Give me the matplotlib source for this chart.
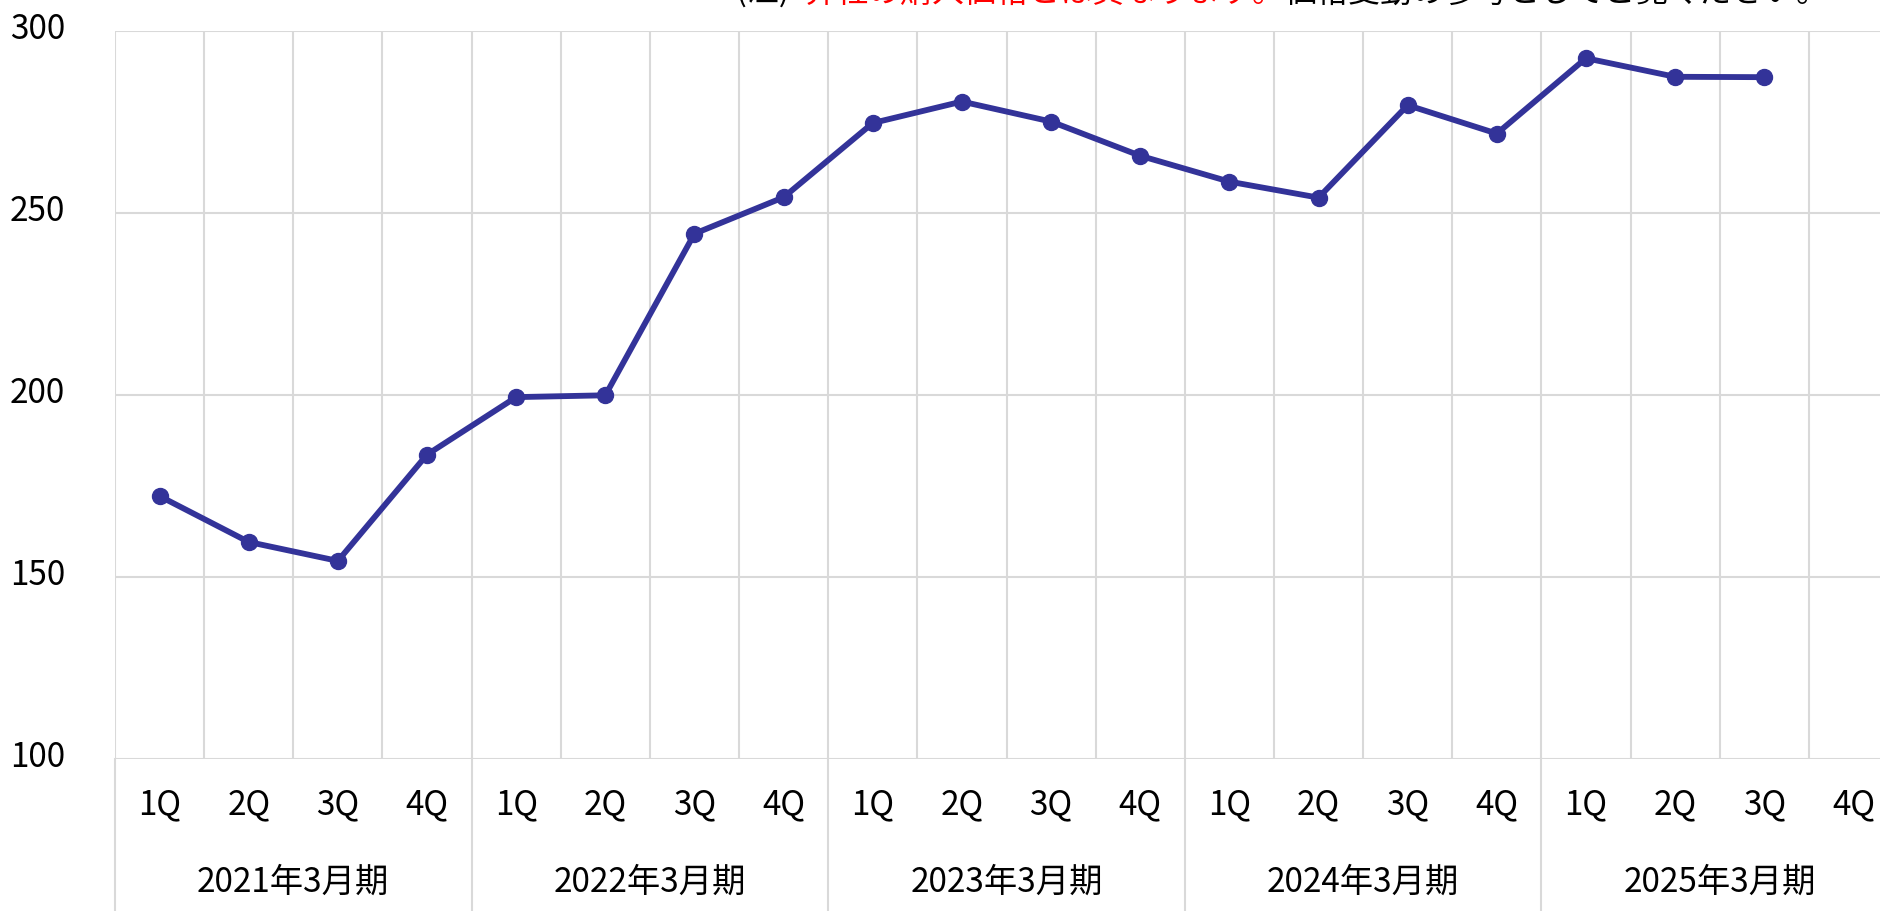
import matplotlib
matplotlib.use('Agg')
import matplotlib.pyplot as plt
from matplotlib.transforms import blended_transform_factory, offset_copy

plt.rcParams['font.family'] = ['Noto Sans CJK JP', 'DejaVu Sans']

# ---- data ----
years = ['2021年3月期', '2022年3月期', '2023年3月期', '2024年3月期', '2025年3月期']
quarters = ['1Q', '2Q', '3Q', '4Q']
values = [172.3, 159.7, 154.5, 183.7,
          199.5, 200.0, 244.4, 254.4,
          274.8, 280.7, 275.2, 265.8,
          258.7, 254.3, 279.7, 271.9,
          292.6, 287.5, 287.4]
yticks = [100, 150, 200, 250, 300]
note_black1 = '(注)'
note_red = '弊社の購入価格とは異なります。'
note_black2 = '価格変動の参考としてご覧ください。'

# ---- layout ----
W, H = 1880, 911
fig = plt.figure(figsize=(W / 100, H / 100), dpi=100)
left, right = 115 / W, 1898 / W
bottom, top = 1 - 759.3 / H, 1 - 31.3 / H
ax = fig.add_axes([left, bottom, right - left, top - bottom])
ax_h_px = 759.3 - 31.3

n = len(years) * len(quarters)
ax.set_xlim(0, n)
ax.set_ylim(yticks[0], yticks[-1])
for s in ax.spines.values():
    s.set_visible(False)
ax.set_xticks([])
ax.set_yticks([])

grid = '#D9D9D9'
glw = 1.5
for y in yticks:
    ax.axhline(y, color=grid, lw=glw, zorder=1)
for i in range(n + 1):
    ax.axvline(i, color=grid, lw=glw, zorder=1)

trans_xa = blended_transform_factory(ax.transData, ax.transAxes)
for k in range(len(years) + 1):
    x = k * len(quarters)
    ax.plot([x, x], [0, -0.4], transform=trans_xa, clip_on=False,
            color=grid, lw=glw, zorder=1)

# series
xs = [i + 0.5 for i in range(len(values))]
ax.plot(xs, values, color='#333399', lw=4.2, marker='o', ms=11.5,
        zorder=3, clip_on=False)

fs = 24
# y tick labels
trans_fy = blended_transform_factory(fig.transFigure, ax.transData)
trans_fy = offset_copy(trans_fy, fig=fig, y=2, units='dots')
for y in yticks:
    ax.text(10 / W, y, str(y), transform=trans_fy, ha='left', va='center',
            fontsize=fs, color='#000000')

# quarter labels
q_y = -(805 - 759.3) / ax_h_px
yr_y = -(882 - 759.3) / ax_h_px
for yi, yr in enumerate(years):
    for qi, q in enumerate(quarters):
        ax.text(yi * 4 + qi + 0.5, q_y, q, transform=trans_xa, ha='center',
                va='center', fontsize=fs, clip_on=False)
    ax.text(yi * 4 + 2, yr_y, yr, transform=trans_xa, ha='center',
            va='center', fontsize=fs, clip_on=False)

# note at top (clipped at the figure edge, as in the reference)
ny = 1 - 2 / H
fig.text(736 / W, ny, note_black1, fontsize=23, va='baseline', ha='left', color='black')
fig.text(804 / W, ny, note_red, fontsize=23, va='baseline', ha='left', color='#FF0000')
fig.text(1284 / W, ny, note_black2, fontsize=23, va='baseline', ha='left', color='black')

fig.savefig('out.png', dpi=100)
